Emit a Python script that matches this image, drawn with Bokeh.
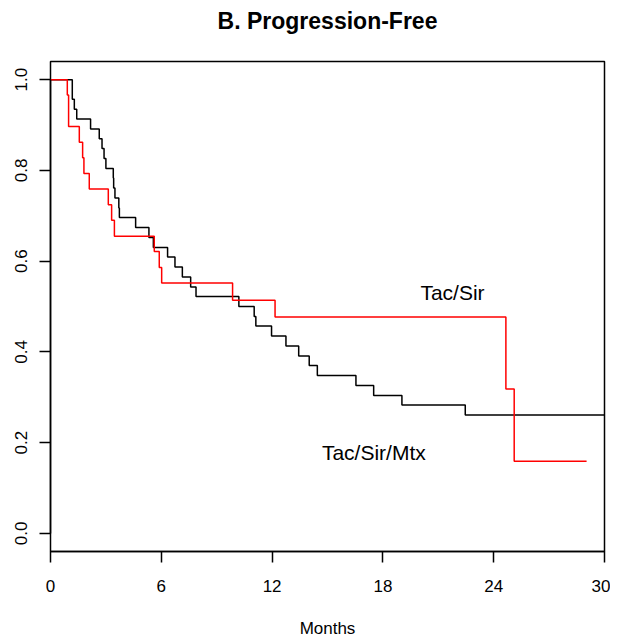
from bokeh.plotting import figure
from bokeh.models import FixedTicker, PrintfTickFormatter, Range1d, LinearAxis, Title
from bokeh.core.properties import value
from bokeh.embed import file_html
from bokeh.resources import INLINE

# Kaplan-Meier step data (months, survival proportion)
tacsirmtx_t = [0, 1.18, 1.29, 1.42, 2.17, 2.64, 2.79, 2.90, 3.00, 3.40, 3.42, 3.49, 3.70, 3.73,
               4.61, 5.33, 5.57, 6.34, 6.74, 7.14, 7.59, 7.88, 10.2, 11.03, 11.12, 11.97,
               12.75, 13.44, 14.01, 14.45, 16.54, 17.50, 19.03, 22.46, 30.0]
tacsirmtx_s = [1.0, 0.957, 0.935, 0.913, 0.891, 0.870, 0.848, 0.826, 0.804, 0.783, 0.761, 0.739,
               0.717, 0.696, 0.674, 0.652, 0.630, 0.609, 0.587, 0.565, 0.543, 0.522, 0.500,
               0.478, 0.457, 0.435, 0.413, 0.391, 0.370, 0.348, 0.326, 0.304, 0.283, 0.261, 0.261]

tacsir_t = [0, 0.91, 0.98, 1.56, 1.74, 1.81, 2.10, 3.13, 3.31, 3.46, 5.62, 5.89, 6.02, 9.86,
            12.16, 24.66, 25.11, 29.03]
tacsir_s = [1.0, 0.966, 0.897, 0.862, 0.828, 0.793, 0.759, 0.724, 0.690, 0.655, 0.621, 0.586,
            0.552, 0.514, 0.477, 0.318, 0.159, 0.159]

x_ticks = [0, 6, 12, 18, 24, 30]
y_ticks = [0.0, 0.2, 0.4, 0.6, 0.8, 1.0]
title_text = "B. Progression-Free"

FONT = "Liberation Sans"

p = figure(frame_width=554, frame_height=490,
           min_border_left=50, min_border_right=6, min_border_top=61, min_border_bottom=88,
           x_range=Range1d(0, 30), y_range=Range1d(-0.04, 1.04),
           output_backend="svg", toolbar_location=None)

# invisible spacer axis between the frame and the title
spacer = LinearAxis(ticker=FixedTicker(ticks=[15]), axis_line_color=None,
                    major_tick_line_color=None, minor_tick_line_color=None,
                    major_tick_out=23, major_tick_in=0, minor_tick_out=0,
                    major_label_standoff=0, major_label_text_font_size="0px",
                    major_label_text_color=None)
p.add_layout(spacer, "above")

title = Title(text=title_text, align="center", text_font=FONT, text_font_size="23px",
              text_font_style="bold", text_color="black", standoff=10)
p.add_layout(title, "above")

p.xgrid.visible = False
p.ygrid.visible = False
p.outline_line_color = "black"
p.outline_line_width = 1.5
p.outline_line_alpha = 1.0
p.background_fill_color = "white"
p.border_fill_color = "white"

xa = p.below[0]
xa.ticker = FixedTicker(ticks=x_ticks)
xa.bounds = (0, 30)
xa.major_label_standoff = 17
xa.axis_label = "Months"
xa.axis_label_text_font = FONT
xa.axis_label_text_font_size = "17px"
xa.axis_label_text_font_style = "normal"
xa.axis_label_text_color = "black"
xa.axis_label_standoff = 24

ya = p.left[0]
ya.ticker = FixedTicker(ticks=y_ticks)
ya.bounds = (0, 1)
ya.formatter = PrintfTickFormatter(format="%.1f")
ya.major_label_orientation = "vertical"
ya.major_label_standoff = 12

for ax in (xa, ya):
    ax.axis_line_width = 1.5
    ax.major_tick_line_width = 1.5
    ax.major_tick_out = 11
    ax.major_tick_in = 0
    ax.minor_tick_line_color = None
    ax.major_label_text_font = FONT
    ax.major_label_text_font_size = "17px"
    ax.major_label_text_color = "black"

p.step(tacsirmtx_t, tacsirmtx_s, mode="after", line_color="black", line_width=1.5)
p.step(tacsir_t, tacsir_s, mode="after", line_color="#ff0000", line_width=1.5)

p.text(x=[21.77], y=[0.530], text=["Tac/Sir"], text_font=value(FONT), text_font_size="21px",
       text_align="center", text_baseline="middle", text_color="black")
p.text(x=[17.51], y=[0.178], text=["Tac/Sir/Mtx"], text_font=value(FONT), text_font_size="21px",
       text_align="center", text_baseline="middle", text_color="black")

open("out.html", "w").write(file_html(p, INLINE))
